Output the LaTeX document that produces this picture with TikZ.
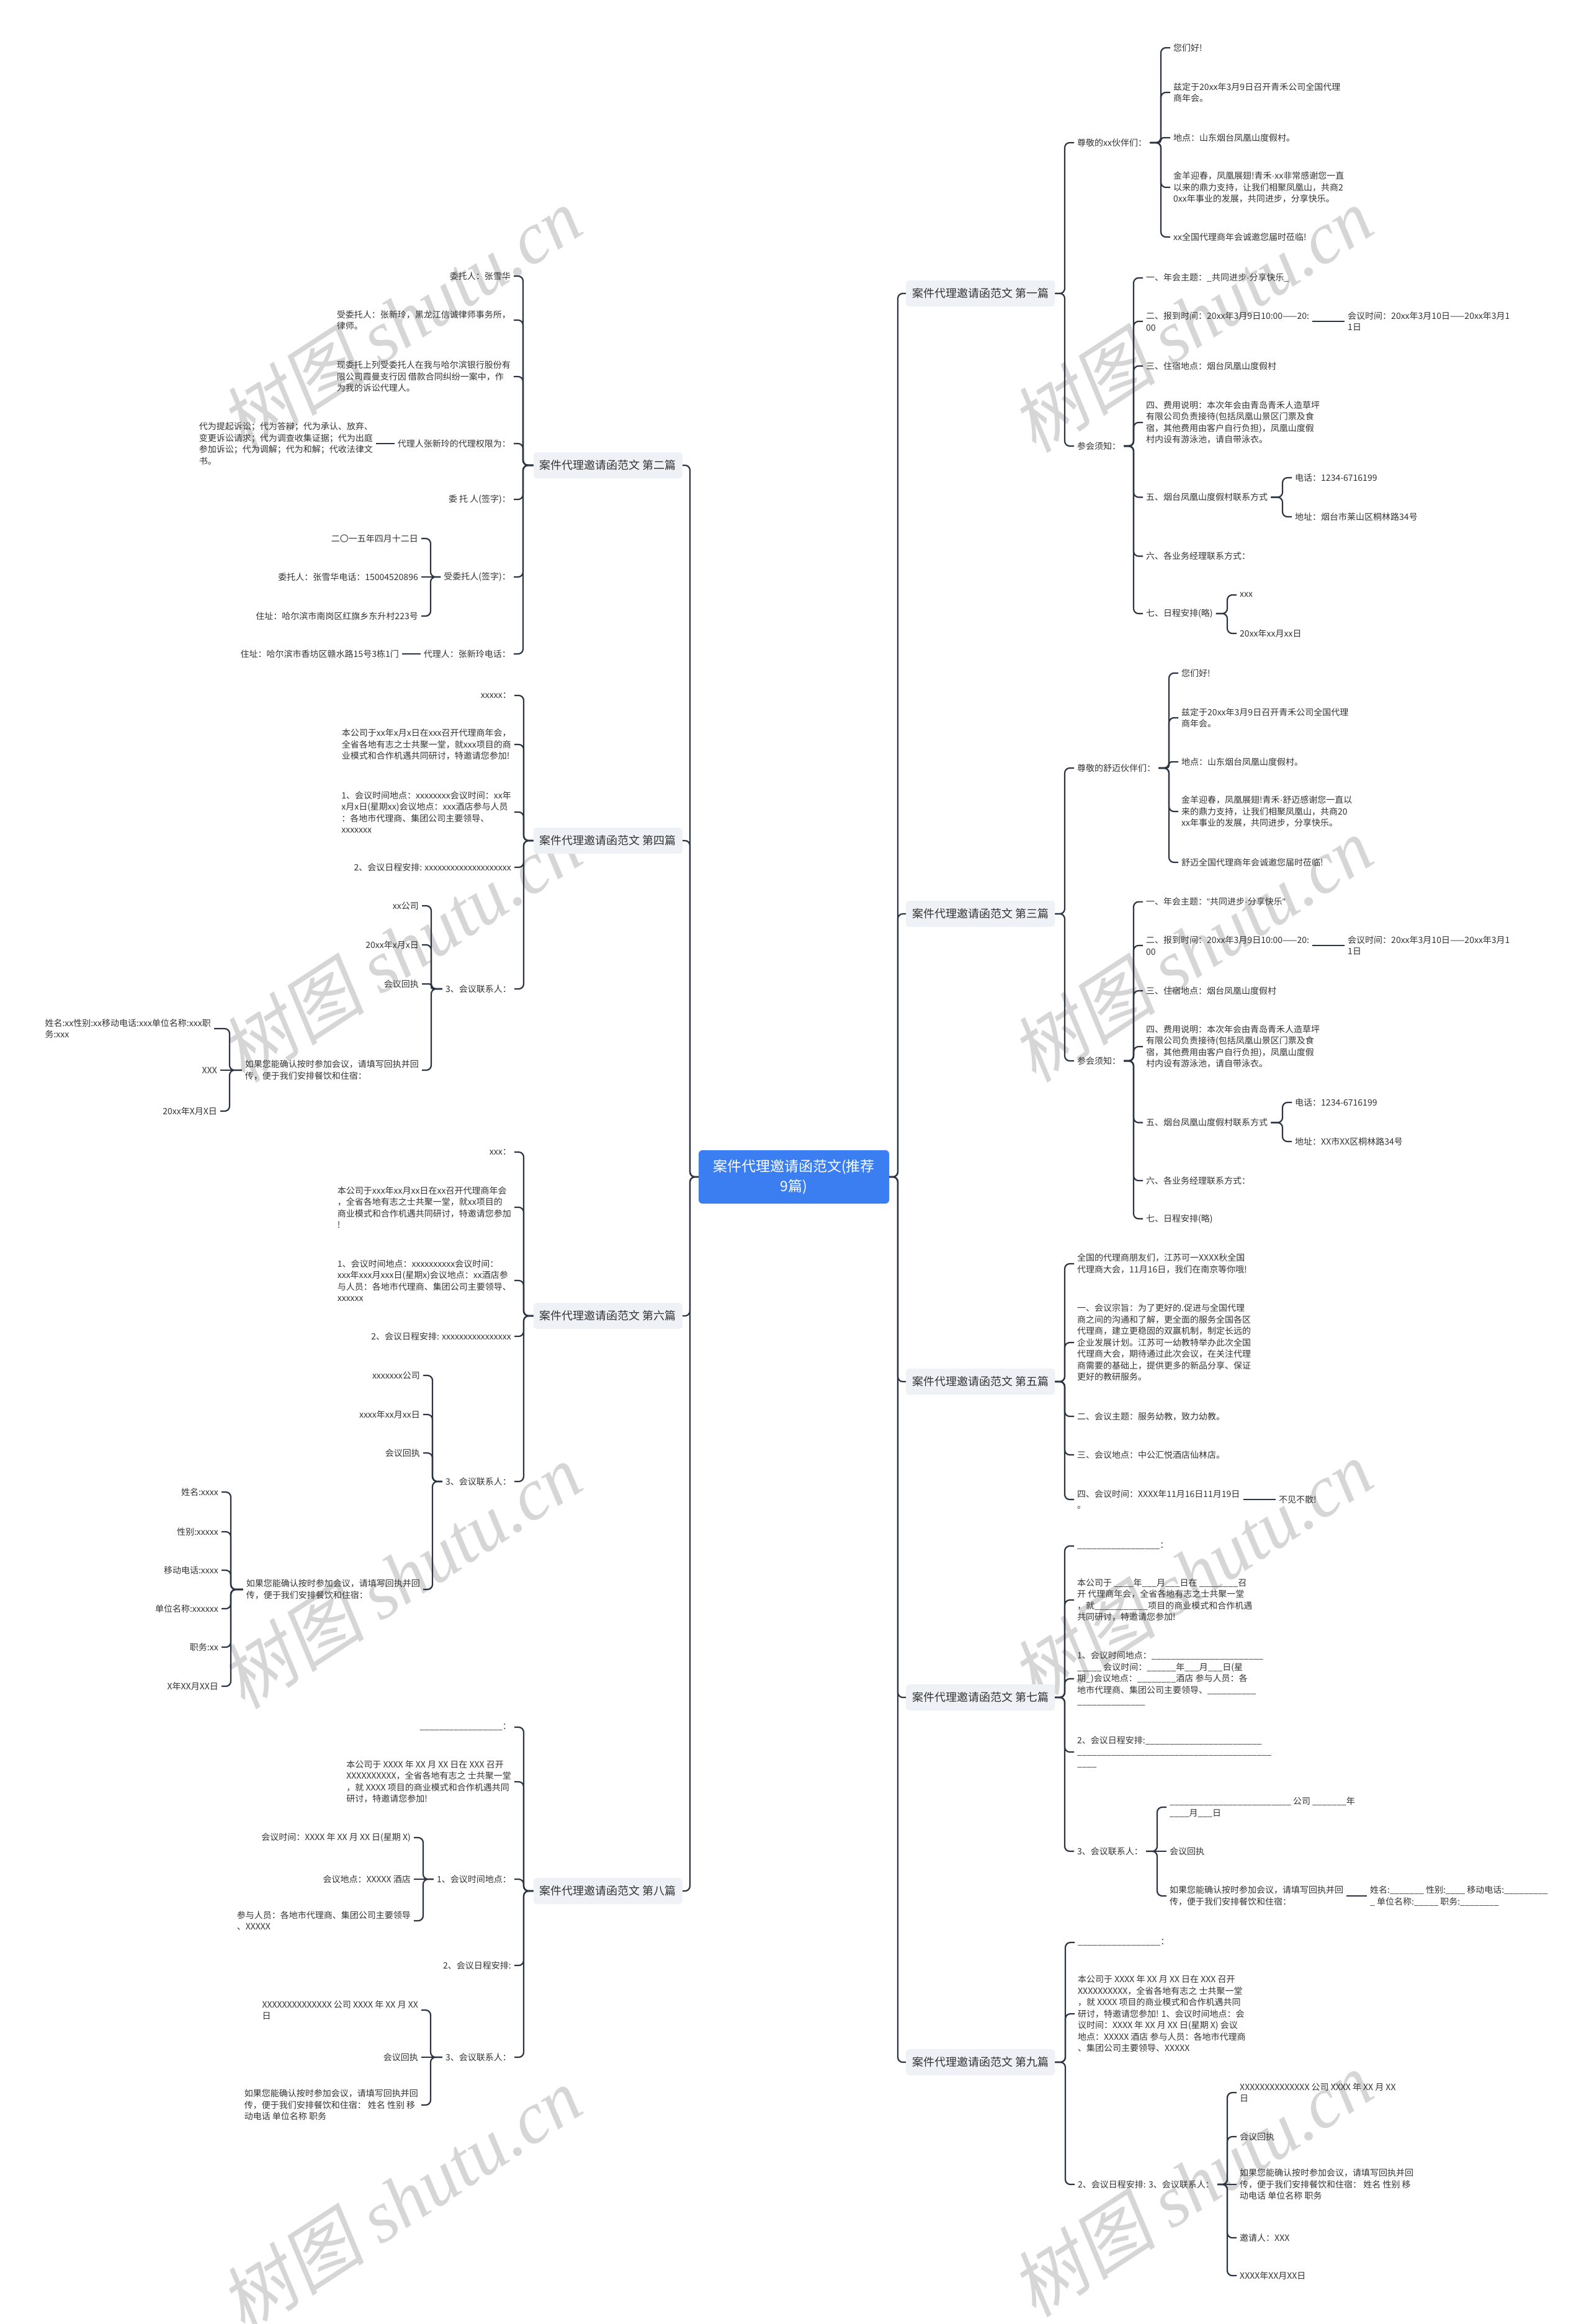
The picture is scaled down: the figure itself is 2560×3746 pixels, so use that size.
\documentclass[tikz,border=0pt]{standalone}
\usepackage{fontspec}
\setmainfont{Noto Sans CJK SC}
\newfontfamily\wmcjk[FakeSlant=0.18]{Noto Sans CJK SC}
\newfontfamily\wmlat{Liberation Serif}
\newfontfamily\latf{Liberation Sans}
\newcommand\mdot{{\latf ·}}
\newcommand\sq{{\latf "}}
\definecolor{lc}{HTML}{2A3442}
\definecolor{tc}{HTML}{333333}
\definecolor{hb}{HTML}{EEF1F6}
\definecolor{rb}{HTML}{3A7EF2}
\definecolor{wmc}{HTML}{D6D6D6}
\ExplSyntaxOn
\NewDocumentCommand\ulines{m}{\prg_replicate:nn{#1}{\_}}
\ExplSyntaxOff
\newcommand\rcon[3][8pt]{\draw[conn,rounded corners=#1] (#3.west) -- ++(-15,0) |- (#2.east);}
\newcommand\rstr[2]{\draw[conn] (#1.east) -- (#2.west);}
\newcommand\lcon[3][8pt]{\draw[conn,rounded corners=#1] (#3.east) -- ++(15,0) |- (#2.west);}
\newcommand\lstr[2]{\draw[conn] (#1.west) -- (#2.east);}
\tikzset{
  conn/.style={draw=lc,line width=2.2pt,rounded corners=8pt},
  txr/.style={anchor=west,inner xsep=5pt,inner ysep=2pt,align=left,text=tc,font=\fontsize{14}{18.5}\selectfont},
  txl/.style={txr,anchor=east},
  hdr/.style={fill=hb,rounded corners=5pt,inner xsep=10pt,inner ysep=0pt,minimum height=42pt,text=tc,font=\fontsize{18}{22}\selectfont},
  rootbox/.style={fill=rb,rounded corners=6pt,minimum width=307pt,minimum height=86pt,align=center,text=white,font=\fontsize{23}{32}\selectfont},
  wmark/.style={text=wmc,font=\fontsize{118}{118}\selectfont,rotate=33,inner sep=0pt},
}
\begin{document}
\begin{tikzpicture}[x=1pt,y=-1pt]
\fill[white] (0,0) rectangle (2560,3746);
\useasboundingbox (0,0) rectangle (2560,3746);
% watermarks
\foreach \wx/\wy in {645/515,1920/515,645/1530,1920/1530,645/2540,1920/2535,645/3545,1920/3520}{
  \node[wmark] at (\wx,\wy) {{\wmcjk 树图} {\wmlat\itshape shutu.cn}};
}
% root
\node[rootbox] (root) at (1279.5,1897) {案件代理邀请函范文(推荐\\9篇)};
% headers
\node[hdr,anchor=west] (h1) at (1460,473) {案件代理邀请函范文 第一篇};
\node[hdr,anchor=west] (h3) at (1460,1473) {案件代理邀请函范文 第三篇};
\node[hdr,anchor=west] (h5) at (1460,2227) {案件代理邀请函范文 第五篇};
\node[hdr,anchor=west] (h7) at (1460,2736) {案件代理邀请函范文 第七篇};
\node[hdr,anchor=west] (h9) at (1460,3324) {案件代理邀请函范文 第九篇};
\node[hdr,anchor=east] (h2) at (1100,750) {案件代理邀请函范文 第二篇};
\node[hdr,anchor=east] (h4) at (1100,1355) {案件代理邀请函范文 第四篇};
\node[hdr,anchor=east] (h6) at (1100,2121) {案件代理邀请函范文 第六篇};
\node[hdr,anchor=east] (h8) at (1100,3048) {案件代理邀请函范文 第八篇};
\foreach \h in {h1,h3,h5,h7,h9}{\draw[conn] (\h.west) -- ++(-13,0) |- (root.east);}
\foreach \h in {h2,h4,h6,h8}{\draw[conn] (\h.east) -- ++(12,0) |- (root.west);}

% ===== 第一篇 =====
\node[txr] (a1) at (1731,230) {尊敬的xx伙伴们：};
\node[txr] (a2) at (1731,719) {参会须知：};
\node[txr] (a11) at (1886,77) {您们好!};
\node[txr] (a12) at (1886,149) {兹定于20xx年3月9日召开青禾公司全国代理\\商年会。};
\node[txr] (a13) at (1886,222) {地点：山东烟台凤凰山度假村。};
\node[txr] (a14) at (1886,302) {金羊迎春，凤凰展翅!青禾\mdot xx非常感谢您一直\\以来的鼎力支持，让我们相聚凤凰山，共商2\\0xx年事业的发展，共同进步，分享快乐。};
\node[txr] (a15) at (1886,382) {xx全国代理商年会诚邀您届时莅临!};
\node[txr] (a21) at (1842,448) {一、年会主题：\_共同进步\mdot 分享快乐\_};
\node[txr] (a22) at (1842,518) {二、报到时间：20xx年3月9日10:00——20:\\00};
\node[txr] (a22a) at (2167,518) {会议时间：20xx年3月10日——20xx年3月1\\1日};
\node[txr] (a23) at (1842,590) {三、住宿地点：烟台凤凰山度假村};
\node[txr] (a24) at (1842,681) {四、费用说明：本次年会由青岛青禾人造草坪\\有限公司负责接待(包括凤凰山景区门票及食\\宿，其他费用由客户自行负担)，凤凰山度假\\村内设有游泳池，请自带泳衣。};
\node[txr] (a25) at (1842,801.5) {五、烟台凤凰山度假村联系方式};
\node[txr] (a251) at (2082,770) {电话：1234-6716199};
\node[txr] (a252) at (2082,833) {地址：烟台市莱山区桐林路34号};
\node[txr] (a26) at (1842,896.5) {六、各业务经理联系方式：};
\node[txr] (a27) at (1842,989) {七、日程安排(略)};
\node[txr] (a271) at (1993,959) {xxx};
\node[txr] (a272) at (1993,1021) {20xx年xx月xx日};
\rcon{h1}{a1} \rcon{h1}{a2}
\rcon{a1}{a11} \rcon{a1}{a12} \rcon[4pt]{a1}{a13} \rcon{a1}{a14} \rcon{a1}{a15}
\rcon{a2}{a21} \rcon{a2}{a22} \rcon{a2}{a23} \rcon{a2}{a24} \rcon{a2}{a25} \rcon{a2}{a26} \rcon{a2}{a27}
\rstr{a22}{a22a}
\rcon{a25}{a251} \rcon{a25}{a252}
\rcon{a27}{a271} \rcon{a27}{a272}

% ===== 第三篇 =====
\node[txr] (b1) at (1731,1238) {尊敬的舒迈伙伴们：};
\node[txr] (b2) at (1731,1710) {参会须知：};
\node[txr] (b11) at (1899,1085) {您们好!};
\node[txr] (b12) at (1899,1157) {兹定于20xx年3月9日召开青禾公司全国代理\\商年会。};
\node[txr] (b13) at (1899,1228) {地点：山东烟台凤凰山度假村。};
\node[txr] (b14) at (1899,1308) {金羊迎春，凤凰展翅!青禾\mdot 舒迈感谢您一直以\\来的鼎力支持，让我们相聚凤凰山，共商20\\xx年事业的发展，共同进步，分享快乐。};
\node[txr] (b15) at (1899,1390) {舒迈全国代理商年会诚邀您届时莅临!};
\node[txr] (b21) at (1842,1453.6) {一、年会主题：\sq 共同进步\mdot 分享快乐\sq};
\node[txr] (b22) at (1842,1524) {二、报到时间：20xx年3月9日10:00——20:\\00};
\node[txr] (b22a) at (2167,1524) {会议时间：20xx年3月10日——20xx年3月1\\1日};
\node[txr] (b23) at (1842,1597) {三、住宿地点：烟台凤凰山度假村};
\node[txr] (b24) at (1842,1687) {四、费用说明：本次年会由青岛青禾人造草坪\\有限公司负责接待(包括凤凰山景区门票及食\\宿，其他费用由客户自行负担)，凤凰山度假\\村内设有游泳池，请自带泳衣。};
\node[txr] (b25) at (1842,1809.5) {五、烟台凤凰山度假村联系方式};
\node[txr] (b251) at (2082,1777) {电话：1234-6716199};
\node[txr] (b252) at (2082,1840) {地址：XX市XX区桐林路34号};
\node[txr] (b26) at (1842,1903) {六、各业务经理联系方式：};
\node[txr] (b27) at (1842,1964.5) {七、日程安排(略)};
\rcon{h3}{b1} \rcon{h3}{b2}
\rcon{b1}{b11} \rcon{b1}{b12} \rcon[4pt]{b1}{b13} \rcon{b1}{b14} \rcon{b1}{b15}
\rcon{b2}{b21} \rcon{b2}{b22} \rcon{b2}{b23} \rcon{b2}{b24} \rcon{b2}{b25} \rcon{b2}{b26} \rcon{b2}{b27}
\rstr{b22}{b22a}
\rcon{b25}{b251} \rcon{b25}{b252}

% ===== 第五篇 =====
\node[txr] (c1) at (1731,2037) {全国的代理商朋友们，江苏可一XXXX秋全国\\代理商大会，11月16日，我们在南京等你哦!};
\node[txr] (c2) at (1731,2164) {一、会议宗旨：为了更好的.促进与全国代理\\商之间的沟通和了解，更全面的服务全国各区\\代理商，建立更稳固的双赢机制，制定长远的\\企业发展计划。江苏可一幼教特举办此次全国\\代理商大会，期待通过此次会议，在关注代理\\商需要的基础上，提供更多的新品分享、保证\\更好的教研服务。};
\node[txr] (c3) at (1731,2283) {二、会议主题：服务幼教，致力幼教。};
\node[txr] (c4) at (1731,2345) {三、会议地点：中公汇悦酒店仙林店。};
\node[txr] (c5) at (1731,2417) {四、会议时间：XXXX年11月16日11月19日\\。};
\node[txr] (c5a) at (2056,2417) {不见不散!};
\rcon{h5}{c1} \rcon{h5}{c2} \rcon{h5}{c3} \rcon{h5}{c4} \rcon{h5}{c5}
\rstr{c5}{c5a}

% ===== 第七篇 =====
\node[txr] (d1) at (1731,2492) {\ulines{17}：};
\node[txr] (d2) at (1731,2579) {本公司于 \ulines{4}年\ulines{3}月\ulines{3}日在 \ulines{8}召\\开 代理商年会，全省各地有志之士共聚一堂\\，就\ulines{11}项目的商业模式和合作机遇\\共同研讨，特邀请您参加!};
\node[txr] (d3) at (1731,2706) {1、会议时间地点：\ulines{23}\\\ulines{5} 会议时间：\ulines{6}年\ulines{3}月\ulines{3}日(星\\期\_)会议地点：\ulines{8}酒店 参与人员：各\\地市代理商、集团公司主要领导、\ulines{10}\\\ulines{14}};
\node[txr] (d4) at (1731,2824) {2、会议日程安排:\ulines{24}\\\ulines{40}\\\ulines{4}};
\node[txr] (d5) at (1731,2984) {3、会议联系人：};
\node[txr] (d51) at (1880,2913) {\ulines{25} 公司 \ulines{7}年\\\ulines{4}月\ulines{3}日};
\node[txr] (d52) at (1880,2984) {会议回执};
\node[txr] (d53) at (1880,3056) {如果您能确认按时参加会议，请填写回执并回\\传，便于我们安排餐饮和住宿：};
\node[txr] (d53a) at (2203,3056) {姓名:\ulines{7} 性别:\ulines{4} 移动电话:\ulines{9}\\\_ 单位名称:\ulines{5} 职务:\ulines{8}};
\rcon{h7}{d1} \rcon{h7}{d2} \rcon{h7}{d3} \rcon{h7}{d4} \rcon{h7}{d5}
\rcon{d5}{d51} \rstr{d5}{d52} \rcon{d5}{d53}
\rstr{d53}{d53a}

% ===== 第九篇 =====
\node[txr] (e1) at (1732,3131) {\ulines{17}：};
\node[txr] (e2) at (1732,3246) {本公司于 XXXX 年 XX 月 XX 日在 XXX 召开\\XXXXXXXXXX，全省各地有志之 士共聚一堂\\，就 XXXX 项目的商业模式和合作机遇共同\\研讨，特邀请您参加! 1、会议时间地点：会\\议时间：XXXX 年 XX 月 XX 日(星期 X) 会议\\地点：XXXXX 酒店 参与人员：各地市代理商\\、集团公司主要领导、XXXXX};
\node[txr] (e3) at (1732,3521) {2、会议日程安排: 3、会议联系人：};
\node[txr] (e31) at (1993,3373) {XXXXXXXXXXXXXX 公司 XXXX 年 XX 月 XX\\日};
\node[txr] (e32) at (1993,3444) {会议回执};
\node[txr] (e33) at (1993,3521) {如果您能确认按时参加会议，请填写回执并回\\传，便于我们安排餐饮和住宿：~姓名 性别 移\\动电话 单位名称 职务};
\node[txr] (e34) at (1993,3607) {邀请人：XXX};
\node[txr] (e35) at (1993,3668) {XXXX年XX月XX日};
\rcon{h9}{e1} \rcon{h9}{e2} \rcon{h9}{e3}
\rcon{e3}{e31} \rcon{e3}{e32} \rstr{e3}{e33} \rcon{e3}{e34} \rcon{e3}{e35}

% ===== 第二篇 =====
\node[txl] (f1) at (828,445) {委托人：张雪华};
\node[txl] (f2) at (828,516) {受委托人：张新玲，黑龙江信诚律师事务所，\\律师。};
\node[txl] (f3) at (828,607) {现委托上列受委托人在我与哈尔滨银行股份有\\限公司霞曼支行因 借款合同纠纷一案中，作\\为我的诉讼代理人。};
\node[txl] (f4) at (828,715) {代理人张新玲的代理权限为：};
\node[txl] (f4a) at (606,715) {代为提起诉讼；代为答辩；代为承认、放弃、\\变更诉讼请求；代为调查收集证据；代为出庭\\参加诉讼；代为调解；代为和解；代收法律文\\书。};
\node[txl] (f5) at (828,805) {委 托 人(签字)：};
\node[txl] (f6) at (828,930) {受委托人(签字)：};
\node[txl] (f61) at (679,868) {二〇一五年四月十二日};
\node[txl] (f62) at (679,930) {委托人：张雪华电话：15004520896};
\node[txl] (f63) at (679,993) {住址：哈尔滨市南岗区红旗乡东升村223号};
\node[txl] (f7) at (828,1054) {代理人：张新玲电话：};
\node[txl] (f7a) at (648,1054) {住址：哈尔滨市香坊区赣水路15号3栋1门};
\lcon{h2}{f1} \lcon{h2}{f2} \lcon{h2}{f3} \lcon{h2}{f4} \lcon{h2}{f5} \lcon{h2}{f6} \lcon{h2}{f7}
\lstr{f4}{f4a}
\lcon{f6}{f61} \lstr{f6}{f62} \lcon{f6}{f63}
\lstr{f7}{f7a}

% ===== 第四篇 =====
\node[txl] (g1) at (829,1121) {xxxxx：};
\node[txl] (g2) at (829,1200) {本公司于xx年x月x日在xxx召开代理商年会，\\全省各地有志之士共聚一堂，就xxx项目的商\\业模式和合作机遇共同研讨，特邀请您参加!};
\node[txl] (g3) at (829,1309) {1、会议时间地点：xxxxxxxx会议时间：xx年\\x月x日(星期xx)会议地点：xxx酒店参与人员\\：各地市代理商、集团公司主要领导、\\xxxxxxx};
\node[txl] (g4) at (829,1398) {2、会议日程安排: xxxxxxxxxxxxxxxxxxxx};
\node[txl] (g5) at (829,1594) {3、会议联系人：};
\node[txl] (g51) at (680,1460) {xx公司};
\node[txl] (g52) at (680,1523) {20xx年x月x日};
\node[txl] (g53) at (680,1586) {会议回执};
\node[txl] (g54) at (680,1725) {如果您能确认按时参加会议，请填写回执并回\\传，便于我们安排餐饮和住宿：};
\node[txl] (g541) at (345,1658) {姓名:xx性别:xx移动电话:xxx单位名称:xxx职\\务:xxx};
\node[txl] (g542) at (355,1725) {XXX};
\node[txl] (g543) at (355,1791) {20xx年X月X日};
\lcon{h4}{g1} \lcon{h4}{g2} \lcon{h4}{g3} \lcon{h4}{g4} \lcon{h4}{g5}
\lcon{g5}{g51} \lcon{g5}{g52} \lcon[3pt]{g5}{g53} \lcon{g5}{g54}
\draw[conn] (g541.east) -- ++(10,0) -- ++(15,0) |- (g54.west);
\lstr{g54}{g542} \lcon{g54}{g543}

% ===== 第六篇 =====
\node[txl] (k1) at (829,1857) {xxx：};
\node[txl] (k2) at (829,1946) {本公司于xxx年xx月xx日在xx召开代理商年会\\，全省各地有志之士共聚一堂，就xx项目的\\商业模式和合作机遇共同研讨，特邀请您参加\\!};
\node[txl] (k3) at (829,2064) {1、会议时间地点：xxxxxxxxxx会议时间：\\xxx年xxx月xxx日(星期x)会议地点：xx酒店参\\与人员：各地市代理商、集团公司主要领导、\\xxxxxx};
\node[txl] (k4) at (829,2154) {2、会议日程安排: xxxxxxxxxxxxxxxx};
\node[txl] (k5) at (829,2388) {3、会议联系人：};
\node[txl] (k51) at (682,2217) {xxxxxxx公司};
\node[txl] (k52) at (682,2280) {xxxx年xx月xx日};
\node[txl] (k53) at (682,2342) {会议回执};
\node[txl] (k54) at (682,2562) {如果您能确认按时参加会议，请填写回执并回\\传，便于我们安排餐饮和住宿：};
\node[txl] (k541) at (357,2405) {姓名:xxxx};
\node[txl] (k542) at (357,2469) {性别:xxxxx};
\node[txl] (k543) at (357,2531) {移动电话:xxxx};
\node[txl] (k544) at (357,2593) {单位名称:xxxxxx};
\node[txl] (k545) at (357,2655) {职务:xx};
\node[txl] (k546) at (357,2718) {X年XX月XX日};
\lcon{h6}{k1} \lcon{h6}{k2} \lcon{h6}{k3} \lcon{h6}{k4} \lcon{h6}{k5}
\lcon{k5}{k51} \lcon{k5}{k52} \lcon{k5}{k53} \lcon{k5}{k54}
\lcon{k54}{k541} \lcon{k54}{k542} \lcon{k54}{k543} \lcon{k54}{k544} \lcon{k54}{k545} \lcon{k54}{k546}

% ===== 第八篇 =====
\node[txl] (m1) at (829,2784) {\ulines{17}：};
\node[txl] (m2) at (829,2872) {本公司于 XXXX 年 XX 月 XX 日在 XXX 召开\\XXXXXXXXXX，全省各地有志之 士共聚一堂\\，就 XXXX 项目的商业模式和合作机遇共同\\研讨，特邀请您参加!};
\node[txl] (m3) at (829,3029) {1、会议时间地点：};
\node[txl] (m31) at (667,2962) {会议时间：XXXX 年 XX 月 XX 日(星期 X)};
\node[txl] (m32) at (667,3029) {会议地点：XXXXX 酒店};
\node[txl] (m33) at (667,3096) {参与人员：各地市代理商、集团公司主要领导\\、XXXXX};
\node[txl] (m4) at (829,3168) {2、会议日程安排:};
\node[txl] (m5) at (829,3316) {3、会议联系人：};
\node[txl] (m51) at (679,3240) {XXXXXXXXXXXXXX 公司 XXXX 年 XX 月 XX\\日};
\node[txl] (m52) at (679,3316) {会议回执};
\node[txl] (m53) at (679,3393) {如果您能确认按时参加会议，请填写回执并回\\传，便于我们安排餐饮和住宿：~姓名 性别 移\\动电话 单位名称 职务};
\lcon{h8}{m1} \lcon{h8}{m2} \lcon{h8}{m3} \lcon{h8}{m4} \lcon{h8}{m5}
\lcon{m3}{m31} \lstr{m3}{m32} \lcon{m3}{m33}
\lcon{m5}{m51} \lstr{m5}{m52} \lcon{m5}{m53}
\end{tikzpicture}
\end{document}
